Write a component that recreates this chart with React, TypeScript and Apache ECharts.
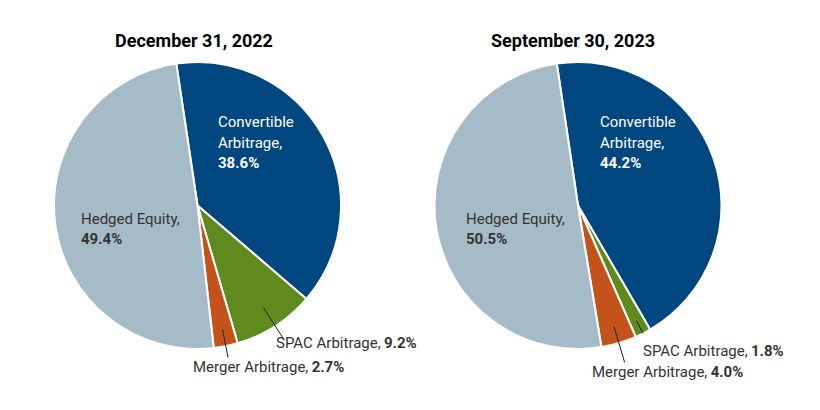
import React, { useEffect, useRef } from 'react';
import * as echarts from 'echarts';

const categories = ['Convertible Arbitrage', 'SPAC Arbitrage', 'Merger Arbitrage', 'Hedged Equity'];
const dec2022 = [38.6, 9.2, 2.7, 49.4];
const sep2023 = [44.2, 1.8, 4.0, 50.5];
const titles = ['December 31, 2022', 'September 30, 2023'];
const labelText = [['Convertible', 'Arbitrage,'], ['SPAC Arbitrage,'], ['Merger Arbitrage,'], ['Hedged Equity,']];
const insideLabel = [true, false, false, true];
const colors = ['#00467f', '#5f8a1e', '#c4531b', '#a6bbc8'];
const labelColors = ['#ffffff', '#333333', '#333333', '#333333'];

const seriesValues = [dec2022, sep2023];

const pies = [
  {
    center: [197.5, 205.5],
    titleX: 194,
    labels: [[218, 112], [276, 333], [193, 357], [81, 208.5]],
    lines: [null, [0.85, 1.11], [0.88, 1.08], null],
  },
  {
    center: [578, 205.5],
    titleX: 573,
    labels: [[600, 112], [643, 341], [592, 362], [466, 208.5]],
    lines: [null, [0.9, 1.0], [0.88, 1.14], null],
  },
];

export default function App() {
  const ref = useRef<HTMLDivElement>(null);
  useEffect(() => {
    document.body.style.margin = '0';
    if (!ref.current) return;
    const chart = echarts.init(ref.current, undefined, { renderer: 'svg' });
    const font = 'Roboto';
    const makeSeries = (pie: any, si: number, overlay: boolean) => ({
      type: 'pie',
      z: overlay ? 3 : 2,
      center: pie.center,
      radius: 143.5,
      startAngle: 98.5,
      clockwise: true,
      avoidLabelOverlap: false,
      silent: true,
      itemStyle: overlay
        ? { color: 'rgba(0,0,0,0)', borderWidth: 0 }
        : { borderColor: '#ffffff', borderWidth: 2 },
      data: categories.map((name, i) => {
        const vals = seriesValues[si];
        const v = vals[i];
        const lines = labelText[i].map((t) => `{n|${t}}`).join('\n');
        const showLabel = overlay ? !insideLabel[i] : insideLabel[i];
        return {
          name,
          value: v,
          itemStyle: overlay ? { color: 'rgba(0,0,0,0)' } : { color: colors[i] },
          label: {
            show: showLabel,
            position: insideLabel[i] ? 'inside' : 'outside',
            formatter: insideLabel[i] ? `${lines}\n{v|${v.toFixed(1)}%}` : `${lines} {v|${v.toFixed(1)}%}`,
            rich: {
              n: { fontFamily: font, fontSize: 15, color: labelColors[i], lineHeight: 20.5 },
              v: { fontFamily: font, fontSize: 15, fontWeight: 'bold', color: labelColors[i], lineHeight: 20.5 },
            },
          },
          labelLine: {
            show: overlay && !insideLabel[i],
            length: 10,
            length2: 0,
            lineStyle: { color: '#222222', width: 1 },
          },
        };
      }),
      labelLayout: (p: any) => {
        const i = p.dataIndex;
        const [lx, ly] = pie.labels[i];
        const res: any = { x: lx, y: ly, align: 'left', verticalAlign: 'top' };
        const ln = pie.lines[i];
        if (ln && p.labelLinePoints && p.labelLinePoints.length) {
          const [px, py] = p.labelLinePoints[0];
          const [cx, cy] = pie.center;
          const dx = px - cx;
          const dy = py - cy;
          res.labelLinePoints = [
            [cx + dx * ln[0], cy + dy * ln[0]],
            [cx + dx * ln[1], cy + dy * ln[1]],
          ];
        }
        return res;
      },
    });
    const series: any[] = [];
    pies.forEach((pie, si) => series.push(makeSeries(pie, si, false)));
    pies.forEach((pie, si) => series.push(makeSeries(pie, si, true)));
    chart.setOption({
      animation: false,
      graphic: pies.map((pie, i) => ({
        type: 'text',
        x: pie.titleX,
        y: 40,
        style: {
          text: titles[i],
          textAlign: 'center',
          textVerticalAlign: 'middle',
          fontFamily: font,
          fontSize: 18,
          fontWeight: 'bold',
          fill: '#000000',
        },
      })),
      series,
    });
    return () => chart.dispose();
  }, []);
  return <div ref={ref} style={{ width: 820, height: 410 }} />;
}
